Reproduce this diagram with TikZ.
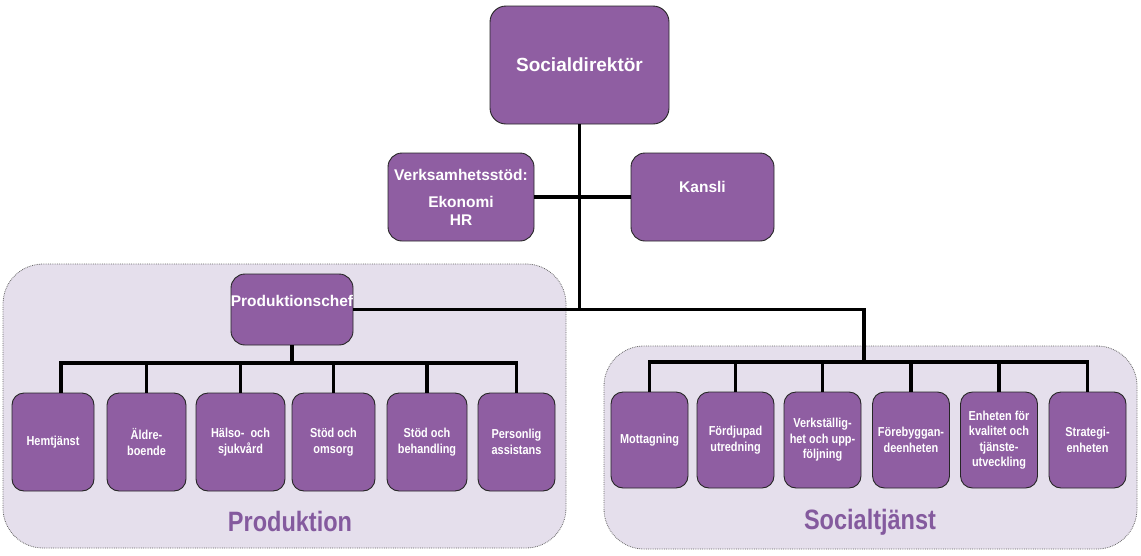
\documentclass[tikz,border=0pt]{standalone}
\usepackage{fontspec}
\setmainfont{Liberation Sans}
\newfontfamily\titlefont[FakeStretch=0.84]{Liberation Sans}
\usetikzlibrary{positioning}
\definecolor{unitpurple}{RGB}{143,94,162}
\definecolor{titlepurple}{RGB}{132,90,158}
\definecolor{grouplilac}{RGB}{229,223,236}
\tikzset{
  unit/.style = {
    rectangle,
    rounded corners = 12pt,
    draw = black!85,
    line width = 0.9pt,
    fill = unitpurple,
    text = white,
    align = center,
    inner sep = 1pt,
    font = \titlefont\bfseries\fontsize{13}{15.5}\selectfont
  }
  , % top boxes and the chef
  head/.style = {
    unit,
    rounded corners = 14pt,
    font = \bfseries\fontsize{15.5}{18}\selectfont
  }
  , % text lifted above the centre of a box
  head-text/.style = {
    text = white,
    font = \bfseries\fontsize{15.5}{18}\selectfont
  }
  ,
  group/.style = {
    rectangle,
    rounded corners = 40pt,
    draw = black!60,
    densely dotted,
    line width = 0.8pt,
    fill = grouplilac
  }
  ,
  group-title/.style = {
    text = titlepurple,
    font = \titlefont\bfseries\fontsize{28}{30}\selectfont
  }
  ,
  link/.style = {
    line width = 3.5pt
  }
}
\begin{document}
\begin{tikzpicture}[x=1pt, y=-1pt]
\useasboundingbox (0,0) rectangle (1141,555);
% the two areas
\node[group, minimum width=563pt, minimum height=284pt] (prod) at (284.5,406) {};
\node[group, minimum width=533pt, minimum height=203pt] (soc) at (870.5,447.5) {};
\node[group-title] (prod-title) at (290,521) {Produktion};
\node[group-title] (soc-title) at (870,522) {Socialtjänst};
% top
\node[head, minimum width=179pt, minimum height=118pt, rounded corners=16pt,
      font=\bfseries\fontsize{19}{22}\selectfont] (root) at (579.5,65) {Socialdirektör};
\node[head, minimum width=146pt, minimum height=88pt] (verks) at (461,197)
  {Verksamhetsstöd:\\[9pt]Ekonomi\\HR};
\node[head, minimum width=143pt, minimum height=88pt,
      label={[head-text, yshift=10pt]center:Kansli}] (kansli) at (702.5,197) {};
\node[head, minimum width=122pt, minimum height=71pt,
      label={[head-text, yshift=9pt]center:Produktionschef}] (pchef) at (292,309.5) {};
% units
\foreach \n/\x/\w/\t in {1/53/82/Hemtjänst, 2/146.5/79/{Äldre-\\boende},
    3/240.5/89/{Hälso-\ \ och\\sjukvård}, 4/333.5/83/{Stöd och\\omsorg},
    5/427/80/{Stöd och\\behandling}, 6/516.5/77/{Personlig\\assistans}}
  \node[unit, minimum width=\w pt, minimum height=98pt] (p\n) at (\x,442) {\t};
\foreach \n/\x/\t in {1/649.5/Mottagning, 2/735.5/{Fördjupad\\utredning},
    3/822.5/{Verkställig-\\het och upp-\\följning}, 4/911/{Förebyggan-\\deenheten},
    5/999/{Enheten för\\kvalitet och\\tjänste-\\utveckling}, 6/1087.5/{Strategi-\\enheten}}
  \node[unit, minimum width=77pt, minimum height=96pt] (s\n) at (\x,440) {\t};
% connectors
\coordinate (sdrop) at (864,309.5);
\coordinate (sbar) at (864,362);
\coordinate (pbar) at (292,363);
\coordinate (p1top) at ([xshift=8pt]p1.north);
\draw[link] (root.south) -- (root.south |- sdrop);
\draw[link] (verks.east) -- (kansli.west);
\draw[link] (pchef.east) -- (sdrop) -- (sbar);
\draw[link] (pchef.south) -- (pbar);
\draw[link] (p1top) -- (p1top |- pbar) -- (p6.north |- pbar) -- (p6.north);
\foreach \n in {2,...,5}
  \draw[link] (p\n.north |- pbar) -- (p\n.north);
\draw[link] (s1.north) -- (s1.north |- sbar) -- (s6.north |- sbar) -- (s6.north);
\foreach \n in {2,...,5}
  \draw[link] (s\n.north |- sbar) -- (s\n.north);
\end{tikzpicture}
\end{document}
